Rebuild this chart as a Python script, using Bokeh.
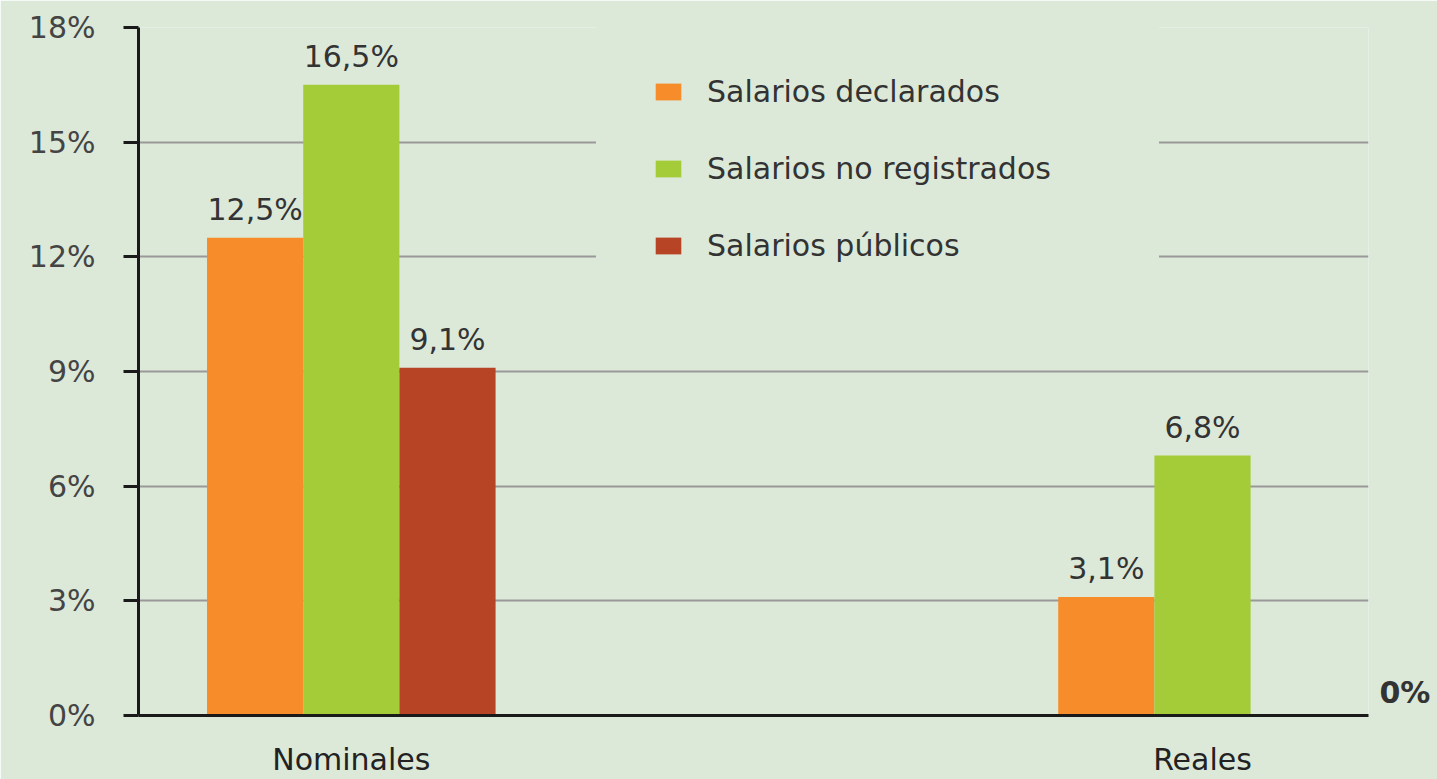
from bokeh.plotting import figure
from bokeh.models import (ColumnDataSource, FixedTicker, Legend, LegendItem,
                          LabelSet, Range1d, LinearAxis)
from bokeh.core.properties import value
from bokeh.embed import file_html
from bokeh.resources import INLINE

# ---- data ----
categories = ["Nominales", "Reales"]
series_names = ["Salarios declarados", "Salarios no registrados", "Salarios públicos"]
declarados = [12.5, 3.1]
no_registrados = [16.5, 6.8]
publicos = [9.1, 0.0]
labels_declarados = ["12,5%", "3,1%"]
labels_no_registrados = ["16,5%", "6,8%"]
labels_publicos = ["9,1%", ""]
zero_label = "0%"
y_ticks = [0, 3, 6, 9, 12, 15, 18]
y_tick_labels = ["0%", "3%", "6%", "9%", "12%", "15%", "18%"]

# ---- style ----
BG = "#DCE9D9"
COLORS = ["#F68C2A", "#A4CC38", "#B84426"]
TEXT = "#333333"
FONT = "DejaVu Sans"
BAR_W = 0.113
OFFSETS = [-BAR_W, 0.0, BAR_W]

p = figure(width=1437, height=779, output_backend="svg", toolbar_location=None,
           x_range=Range1d(-0.25, 1.195), y_range=Range1d(0, 18),
           min_border_left=138, min_border_right=69, min_border_top=27,
           min_border_bottom=61)
p.background_fill_color = BG
p.border_fill_color = BG
p.outline_line_color = None

values = [declarados, no_registrados, publicos]
texts = [labels_declarados, labels_no_registrados, labels_publicos]
renderers = []
for i, (vals, txt) in enumerate(zip(values, texts)):
    src = ColumnDataSource(dict(
        x=[k + OFFSETS[i] for k in range(len(categories))],
        top=vals, label=txt))
    r = p.vbar(x="x", top="top", bottom=0, width=BAR_W, source=src,
               fill_color=COLORS[i], line_color=None)
    renderers.append(r)
    ls = LabelSet(x="x", y="top", text="label", source=src, text_align="center",
                  text_baseline="alphabetic", y_offset=18, text_font=value(FONT),
                  text_font_size="30px", text_color=TEXT)
    p.add_layout(ls)

# axes
p.yaxis.ticker = FixedTicker(ticks=y_ticks)
p.yaxis.major_label_overrides = {t: l for t, l in zip(y_ticks, y_tick_labels)}
p.yaxis.major_label_text_font = FONT
p.yaxis.major_label_text_font_size = "30px"
p.yaxis.major_label_text_color = "#444444"
p.yaxis.major_label_standoff = 28
p.yaxis.major_tick_out = 15
p.yaxis.major_tick_in = 0
p.yaxis.major_tick_line_width = 3
p.yaxis.major_tick_line_color = "#1a1a1a"
p.yaxis.minor_tick_out = 0
p.yaxis.minor_tick_in = 0
p.yaxis.axis_line_width = 3
p.yaxis.axis_line_color = "#1a1a1a"

p.xaxis.ticker = FixedTicker(ticks=list(range(len(categories))))
p.xaxis.major_label_overrides = {k: c for k, c in enumerate(categories)}
p.xaxis.major_label_text_font = FONT
p.xaxis.major_label_text_font_size = "30px"
p.xaxis.major_label_text_color = "#222222"
p.xaxis.major_label_standoff = 26
p.xaxis.major_tick_out = 0
p.xaxis.major_tick_in = 0
p.xaxis.minor_tick_out = 0
p.xaxis.minor_tick_in = 0
p.xaxis.axis_line_width = 3
p.xaxis.axis_line_color = "#1a1a1a"

# value label of the zero bar (public salaries, real) shown at the right edge
zero_pos = publicos[1] + 0.6
right_axis = LinearAxis(ticker=FixedTicker(ticks=[zero_pos]),
                        major_label_overrides={zero_pos: zero_label},
                        axis_line_color=None, major_tick_line_color=None,
                        minor_tick_line_color=None, major_label_standoff=5,
                        major_label_text_font=FONT, major_label_text_font_size="30px",
                        major_label_text_font_style="bold", major_label_text_color=TEXT)
p.add_layout(right_axis, "right")

p.xgrid.grid_line_color = None
p.ygrid.grid_line_color = "#999999"
p.ygrid.grid_line_width = 2

legend = Legend(items=[LegendItem(label=n, renderers=[r]) for n, r in zip(series_names, renderers)],
                location=(458, 396), orientation="vertical",
                background_fill_color=BG, background_fill_alpha=1.0,
                border_line_color=BG, border_line_width=1, label_text_font=FONT,
                label_text_font_size="30px", label_text_color=TEXT,
                glyph_width=32, glyph_height=21, label_standoff=23, label_width=396,
                spacing=42, padding=55, margin=0)
p.add_layout(legend)

open("out.html", "w").write(file_html(p, INLINE))
